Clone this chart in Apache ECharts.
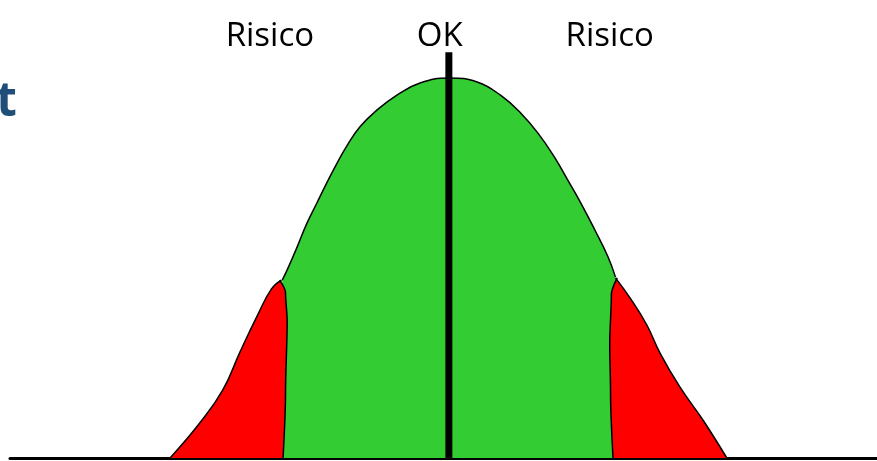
<!DOCTYPE html>
<html lang="nl">
<head>
    <meta charset="UTF-8">
    <title>Risico - OK - Risico</title>
    <script src="https://cdn.jsdelivr.net/npm/echarts@6/dist/echarts.min.js"></script>
    <style>
        html, body { margin: 0; padding: 0; background: #fff; }
        #main { width: 877px; height: 461px; }
    </style>
</head>
<body>
<div id="main"></div>
<script>
    // x in standaardafwijkingen (sigma), y relatief t.o.v. de top (100)
    var greenCurve = [
        [-2.02, 46.8], [-1.96, 49.5], [-1.84, 55.5], [-1.72, 61.8], [-1.60, 67.1],
        [-1.48, 72.4], [-1.36, 77.4], [-1.24, 82.0], [-1.08, 87.1], [-0.87, 91.6],
        [-0.63, 95.5], [-0.35, 98.7], [0, 100], [0.35, 98.9], [0.63, 95.4],
        [0.87, 90.8], [1.08, 85.5], [1.28, 79.2], [1.44, 73.2], [1.60, 67.1],
        [1.77, 60.0], [1.93, 52.9], [2.02, 47.6]
    ];
    // linker staart: buitenkant en binnenrand
    var redLeftOuter = [
        [-3.38, 0], [-3.02, 9.2], [-2.74, 17.9], [-2.53, 28.0], [-2.31, 38.0],
        [-2.15, 44.5], [-2.03, 46.8]
    ];
    var redLeftInner = [
        [-2.05, 46.8], [-1.98, 43.5], [-1.96, 36.0], [-1.98, 17.1], [-2.01, 0]
    ];
    // rechter staart: binnenrand en buitenkant
    var redRightInner = [
        [1.99, 0], [1.96, 17.0], [1.95, 30.0], [1.97, 43.0], [2.04, 47.4]
    ];
    var redRightOuter = [
        [2.02, 47.4], [2.20, 42.0], [2.40, 35.0], [2.56, 27.6], [2.80, 18.7],
        [3.08, 10.0], [3.37, 0]
    ];
    var centerLine = [[0, 0], [0, 106.8]];
    var labelNames = ['Risico', 'OK', 'Risico'];
    var labelPos = [[-2.17, 111], [-0.11, 111], [1.95, 111]];

    var chart = echarts.init(document.getElementById('main'));

    function area(name, data, color, monotone, smooth, z) {
        return {
            name: name,
            type: 'line',
            data: data,
            smooth: smooth,
            smoothMonotone: monotone,
            showSymbol: false,
            lineStyle: { color: '#000', width: 1.5 },
            areaStyle: { color: color, opacity: 1 },
            z: z
        };
    }

    var option = {
        animation: false,
        title: {
            text: 't',
            left: -9,
            top: 73,
            textStyle: {
                fontFamily: 'Open Sans',
                fontWeight: 'bold',
                fontSize: 48,
                color: '#1F4E79'
            }
        },
        grid: { left: 10, right: 0, top: 40, bottom: 3 },
        xAxis: {
            type: 'value',
            min: -5.32,
            max: 5.19,
            axisLine: { show: true, lineStyle: { color: '#000', width: 3 } },
            axisTick: { show: false },
            axisLabel: { show: false },
            splitLine: { show: false }
        },
        yAxis: {
            type: 'value',
            min: 0,
            max: 110,
            axisLine: { show: false },
            axisTick: { show: false },
            axisLabel: { show: false },
            splitLine: { show: false }
        },
        series: [
            area('OK', greenCurve, '#33CC33', null, 0.45, 2),
            area('Risico links', redLeftOuter, '#FF0000', null, 0.45, 3),
            area('Risico links rand', redLeftInner, '#FF0000', 'y', 0.3, 3),
            area('Risico rechts rand', redRightInner, '#FF0000', 'y', 0.3, 3),
            area('Risico rechts', redRightOuter, '#FF0000', null, 0.45, 3),
            {
                name: 'midden',
                type: 'line',
                data: centerLine,
                showSymbol: false,
                lineStyle: { color: '#000', width: 7, cap: 'butt' },
                z: 4
            },
            {
                name: 'labels',
                type: 'scatter',
                clip: false,
                symbolSize: 1,
                itemStyle: { color: 'rgba(0,0,0,0)' },
                data: labelPos.map(function (p, i) {
                    return { value: p, name: labelNames[i] };
                }),
                label: {
                    show: true,
                    position: 'inside',
                    formatter: function (params) {
                        return params.name;
                    },
                    fontFamily: 'Open Sans',
                    fontSize: 33,
                    color: '#000',
                    textBorderWidth: 0,
                    opacity: 1
                },
                z: 5
            }
        ]
    };
    chart.setOption(option);
</script>
</body>
</html>
